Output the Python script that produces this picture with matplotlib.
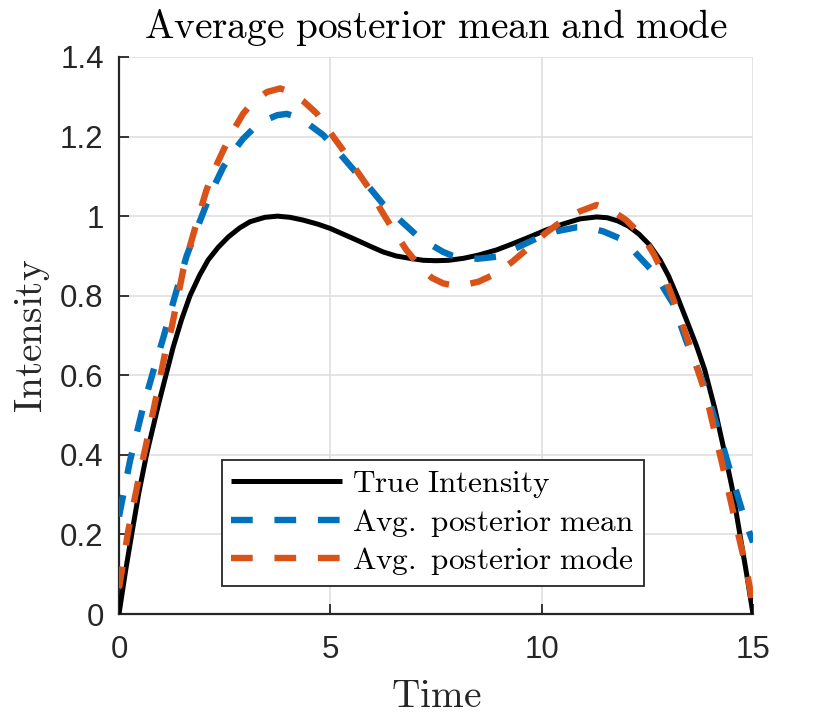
import matplotlib
matplotlib.use("Agg")
import matplotlib.pyplot as plt

plt.rcParams['mathtext.fontset'] = 'cm'
plt.rcParams['font.family'] = ['Liberation Sans', 'DejaVu Sans']

# ---- data ----
t_true = [0.0, 0.15, 0.3, 0.47, 0.65, 0.93, 1.11, 1.28, 1.48, 1.68, 1.9, 2.11, 2.35,
          2.59, 2.85, 3.1, 3.45, 3.75, 4.05, 4.36, 4.7, 5.0, 5.3, 5.62, 5.95, 6.25,
          6.55, 6.88, 7.2, 7.5, 7.8, 8.15, 8.5, 8.93, 9.3, 9.72, 10.1, 10.5, 10.9,
          11.3, 11.55, 11.8, 12.05, 12.3, 12.55, 12.8, 13.0, 13.2, 13.43, 13.67,
          13.86, 14.1, 14.34, 14.5, 14.69, 14.85, 15.0]
y_true = [0.0, 0.105, 0.2, 0.305, 0.4, 0.525, 0.6, 0.67, 0.74, 0.8, 0.85, 0.89, 0.922,
          0.948, 0.97, 0.986, 0.997, 1.0, 0.997, 0.99, 0.98, 0.969, 0.955, 0.94,
          0.924, 0.91, 0.90, 0.894, 0.889, 0.888, 0.889, 0.894, 0.902, 0.915, 0.93,
          0.948, 0.965, 0.98, 0.993, 0.998, 0.996, 0.988, 0.975, 0.955, 0.928, 0.89,
          0.85, 0.80, 0.738, 0.672, 0.613, 0.515, 0.40, 0.32, 0.20, 0.10, 0.0]

t_mean = [0.0, 0.26, 0.57, 0.81, 1.05, 1.3, 1.6, 1.85, 2.07, 2.27, 2.47, 2.7, 2.94,
          3.18, 3.5, 3.75, 3.97, 4.2, 4.5, 4.83, 5.2, 5.62, 5.94, 6.25, 6.65, 7.04,
          7.35, 7.67, 7.9, 8.15, 8.5, 8.93, 9.4, 9.88, 10.35, 10.83, 11.06, 11.45,
          11.85, 12.2, 12.56, 12.85, 13.11, 13.43, 13.86, 14.18, 14.5, 14.81, 15.0]
y_mean = [0.245, 0.385, 0.52, 0.61, 0.695, 0.79, 0.90, 0.97, 1.03, 1.08, 1.124, 1.162,
          1.195, 1.22, 1.243, 1.254, 1.257, 1.25, 1.23, 1.204, 1.16, 1.108, 1.07, 1.03,
          0.99, 0.952, 0.93, 0.91, 0.90, 0.894, 0.893, 0.898, 0.92, 0.944, 0.962,
          0.972, 0.972, 0.962, 0.944, 0.91, 0.869, 0.825, 0.78, 0.684, 0.571, 0.462,
          0.345, 0.236, 0.18]

t_mode = [0.0, 0.22, 0.46, 0.65, 0.85, 1.09, 1.25, 1.52, 1.8, 2.07, 2.27, 2.47, 2.7,
          2.94, 3.18, 3.5, 3.81, 4.05, 4.35, 4.68, 5.0, 5.3, 5.62, 5.94, 6.2, 6.49,
          6.8, 7.12, 7.4, 7.67, 7.9, 8.07, 8.5, 8.93, 9.3, 9.72, 10.1, 10.51, 10.9,
          11.3, 11.65, 12.0, 12.4, 12.65, 12.88, 13.27, 13.59, 13.9, 14.14, 14.38,
          14.61, 14.85, 15.0]
y_mode = [0.065, 0.21, 0.337, 0.43, 0.53, 0.655, 0.722, 0.865, 0.97, 1.066, 1.12,
          1.166, 1.215, 1.258, 1.288, 1.312, 1.321, 1.313, 1.29, 1.258, 1.21, 1.166,
          1.115, 1.066, 1.015, 0.965, 0.915, 0.873, 0.845, 0.831, 0.826, 0.825, 0.835,
          0.856, 0.885, 0.923, 0.958, 0.99, 1.012, 1.028, 1.015, 0.99, 0.948, 0.905,
          0.856, 0.747, 0.647, 0.546, 0.437, 0.328, 0.219, 0.11, 0.02]

x_ticks = [0, 5, 10, 15]
x_ticklabels = ['0', '5', '10', '15']
y_ticks = [0, 0.2, 0.4, 0.6, 0.8, 1.0, 1.2, 1.4]
y_ticklabels = ['0', '0.2', '0.4', '0.6', '0.8', '1', '1.2', '1.4']

labels = [r'$\mathrm{True\ Intensity}$',
          r'$\mathrm{Avg.\ posterior\ mean}$',
          r'$\mathrm{Avg.\ posterior\ mode}$']

# ---- figure ----
fig = plt.figure(figsize=(8.3, 7.2), dpi=100)
ax = fig.add_axes([119/830, 1-614/720, (753-119)/830, (614-57)/720])

ax.plot(t_true, y_true, color='black', lw=3.6, label=labels[0], zorder=3,
        solid_capstyle='butt', solid_joinstyle='round')
ax.plot(t_mean, y_mean, color='#0072BD', lw=4.6, label=labels[1], zorder=4,
        dashes=(3.4, 3.4), dash_capstyle='butt')
ax.plot(t_mode, y_mode, color='#D95319', lw=4.6, label=labels[2], zorder=5,
        dashes=(3.4, 3.4), dash_capstyle='butt')

ax.set_xlim(0, 15)
ax.set_ylim(0, 1.4)
ax.set_xticks(x_ticks)
ax.set_xticklabels(x_ticklabels)
ax.set_yticks(y_ticks)
ax.set_yticklabels(y_ticklabels)

axc = '#262626'
for s in ['top', 'right']:
    ax.spines[s].set_visible(False)
for s in ['left', 'bottom']:
    ax.spines[s].set_color(axc)
    ax.spines[s].set_linewidth(1.6)
ax.tick_params(direction='in', length=7, width=1.3, colors=axc, labelsize=22.5)
ax.tick_params(axis='y', pad=11)
ax.tick_params(axis='x', pad=15)
ax.grid(True, color='#dfdfdf', lw=1.2)
ax.set_axisbelow(True)

ax.set_title(r'$\mathrm{Average\ posterior\ mean\ and\ mode}$', fontsize=28.3, pad=14,
             color='black')
ax.set_xlabel(r'$\mathrm{Time}$', fontsize=28.3, labelpad=10, color=axc)
ax.set_ylabel(r'$\mathrm{Intensity}$', fontsize=28.3, labelpad=6, color=axc)

leg = ax.legend(loc='lower left', bbox_to_anchor=(0.162, 0.05), fontsize=22.5,
                frameon=True, fancybox=False, framealpha=1, edgecolor=axc,
                handlelength=3.55, handletextpad=0.32, labelspacing=0.2,
                borderpad=0.3, borderaxespad=0)
leg.get_frame().set_linewidth(1.3)

fig.savefig('out.png', dpi=100)
